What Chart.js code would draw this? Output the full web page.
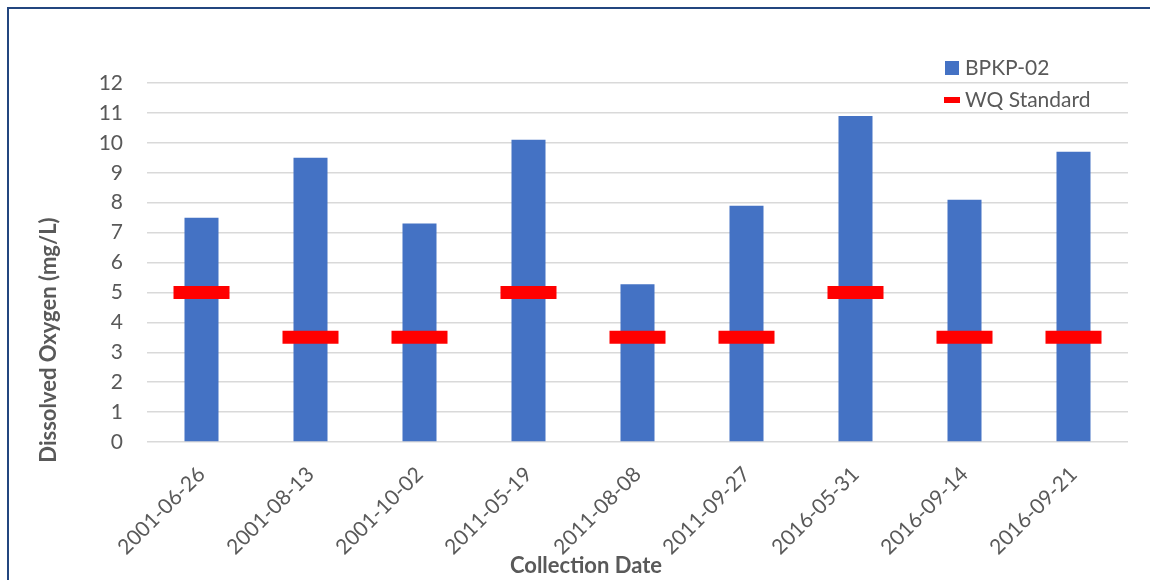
<!DOCTYPE html>
<html>
<head>
<meta charset="utf-8">
<script src="https://cdn.jsdelivr.net/npm/chart.js@4.4.1/dist/chart.umd.min.js"></script>
<style>
  body { margin: 0; background: #fff; }
  .wrap { position: relative; width: 1150px; height: 580px; overflow: hidden; }
  .frame { position: absolute; left: 7px; top: 7px; width: 1160px; height: 600px; border: 2px solid #23467f; box-sizing: border-box; pointer-events: none; }
  canvas { position: absolute; left: 0; top: 0; }
</style>
</head>
<body>
<div class="wrap">
  <canvas id="myChart" width="1150" height="580"></canvas>
  <div class="frame"></div>
</div>
<script>
const dates = ['2001-06-26', '2001-08-13', '2001-10-02', '2011-05-19', '2011-08-08', '2011-09-27', '2016-05-31', '2016-09-14', '2016-09-21'];
const oxygen = [7.5, 9.5, 7.3, 10.1, 5.27, 7.9, 10.9, 8.1, 9.7];
const standard = [5, 3.5, 3.5, 5, 3.5, 3.5, 5, 3.5, 3.5];
const yTicks = [0, 1, 2, 3, 4, 5, 6, 7, 8, 9, 10, 11, 12];

const grey = '#595959';
const font = 'Lato';

// legend + axis titles drawn by hand so they can sit where excel put them
const extras = {
    id: 'extras',
    afterDraw(chart) {
        const ctx = chart.ctx;
        ctx.save();
        ctx.fillStyle = grey;
        ctx.textBaseline = 'middle';

        // y title
        ctx.font = 'bold 22px ' + font;
        ctx.textAlign = 'center';
        ctx.save();
        ctx.translate(49, 340);
        ctx.rotate(-Math.PI / 2);
        ctx.fillText('Dissolved Oxygen (mg/L)', 0, 0);
        ctx.restore();

        // x title
        ctx.fillText('Collection Date', 586, 566);

        // legend
        ctx.textAlign = 'left';
        ctx.font = '21px ' + font;
        ctx.fillStyle = '#4472C4';
        ctx.fillRect(945, 61, 14, 14);
        ctx.fillStyle = '#FF0000';
        ctx.fillRect(944, 97, 16, 6);
        ctx.fillStyle = grey;
        ctx.fillText(chart.data.datasets[1].label, 965, 68);
        ctx.fillText(chart.data.datasets[0].label, 965, 100);
        ctx.restore();
    }
};

let ctx = document.getElementById('myChart');
let myChart = new Chart(ctx, {
    data: {
        labels: dates,
        datasets: [{
            type: 'line',
            label: 'WQ Standard',
            data: standard,
            showLine: false,
            pointStyle: 'line',
            pointRadius: 28,
            pointHoverRadius: 28,
            pointBorderWidth: 13,
            pointHoverBorderWidth: 13,
            pointBorderColor: '#FF0000',
            borderColor: '#FF0000',
            order: 0
        }, {
            type: 'bar',
            label: 'BPKP-02',
            data: oxygen,
            backgroundColor: '#4472C4',
            barPercentage: 1,
            categoryPercentage: 0.312,
            order: 1
        }]
    },
    options: {
        responsive: false,
        animation: false,
        layout: { autoPadding: false, padding: { top: 83, right: 22, left: 0, bottom: 0 } },
        plugins: {
            legend: { display: false },
            tooltip: { enabled: false }
        },
        scales: {
            x: {
                grid: { display: false },
                border: { display: false },
                ticks: {
                    color: grey,
                    font: { family: font, size: 21 },
                    minRotation: 45,
                    maxRotation: 45,
                    padding: 12
                },
                afterFit(scale) { scale.height = 138; }
            },
            y: {
                min: 0,
                max: 12,
                afterBuildTicks(scale) { scale.ticks = yTicks.map(v => ({ value: v })); },
                grid: { color: '#D9D9D9', lineWidth: 1.5, drawTicks: false },
                border: { display: false },
                ticks: {
                    color: grey,
                    font: { family: font, size: 21 },
                    padding: 24
                },
                afterFit(scale) { scale.width = 147; }
            }
        }
    },
    plugins: [extras]
});
</script>
</body>
</html>
